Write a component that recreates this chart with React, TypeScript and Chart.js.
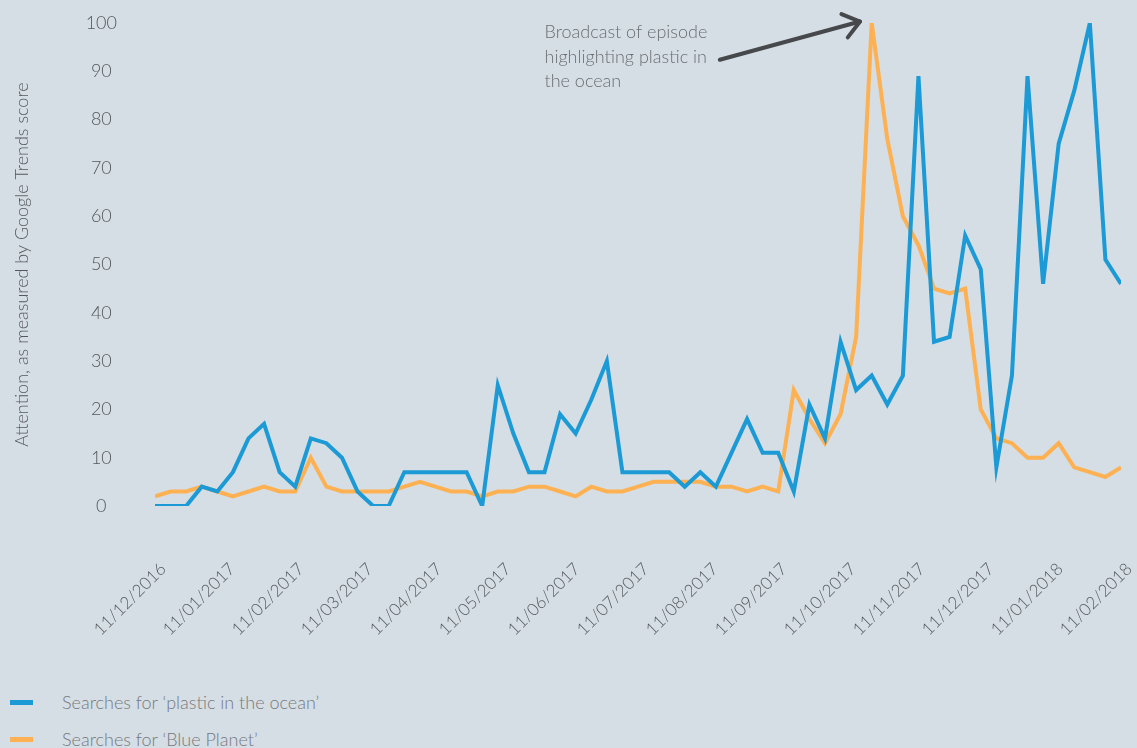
import React, { useEffect, useRef } from "react";
import { Chart, registerables } from "chart.js";

Chart.register(...registerables);

// Month tick labels along the x axis (evenly spaced over the weekly series)
const monthLabels = [
  "11/12/2016", "11/01/2017", "11/02/2017", "11/03/2017", "11/04/2017",
  "11/05/2017", "11/06/2017", "11/07/2017", "11/08/2017", "11/09/2017",
  "11/10/2017", "11/11/2017", "11/12/2017", "11/01/2018", "11/02/2018",
];

// Weekly Google Trends scores
const plasticInOcean = [
  0, 0, 0, 4, 3, 7, 14, 17, 7, 4, 14, 13, 10, 3, 0, 0, 7, 7, 7, 7, 7, 0,
  25, 15, 7, 7, 19, 15, 22, 30,
  7, 7, 7, 7, 4, 7, 4, 11, 18, 11, 11, 3,
  21, 14, 34, 24, 27, 21, 27, 89, 34, 35, 56, 49,
  8, 27, 89, 46, 75, 86, 100, 51, 46,
];

const bluePlanet = [
  2, 3, 3, 4, 3, 2, 3, 4, 3, 3, 10, 4, 3, 3, 3, 3, 4, 5, 4, 3, 3, 2,
  3, 3, 4, 4, 3, 2, 4, 3,
  3, 4, 5, 5, 5, 5, 4, 4, 3, 4, 3, 24,
  18, 13, 19, 35, 100, 76, 60, 54, 45, 44, 45, 20,
  14, 13, 10, 10, 13, 8, 7, 6, 8,
];

const seriesNames = ["Searches for \u2018plastic in the ocean\u2019", "Searches for \u2018Blue Planet\u2019"];
const seriesColors = ["#1b9ad6", "#fdb152"];
const yTitle = "Attention, as measured by Google Trends score";
const noteLines = ["Broadcast of episode", "highlighting plastic in", "the ocean"];

const BG = "#d5dee5";
const FONT = "Lato, 'Open Sans', sans-serif";

export default function App() {
  const ref = useRef<HTMLCanvasElement>(null);

  useEffect(() => {
    const last = plasticInOcean.length - 1;
    const tickCount = monthLabels.length;

    const notePlugin = {
      id: "broadcastNote",
      afterDraw(chart: any) {
        const { ctx } = chart;
        const xs = chart.scales.x;
        const ys = chart.scales.y;
        ctx.save();
        // text
        ctx.font = `300 18px ${FONT}`;
        ctx.fillStyle = "#6b6e72";
        ctx.textAlign = "left";
        ctx.textBaseline = "middle";
        const tx = xs.getPixelForValue(25.0);
        const lineVals = [98.0, 92.9, 87.9];
        noteLines.forEach((t, i) => {
          ctx.fillText(t, tx, ys.getPixelForValue(lineVals[i]));
        });
        // arrow
        const tipX = xs.getPixelForValue(45.25);
        const tipY = ys.getPixelForValue(100.3);
        const tailX = xs.getPixelForValue(36.25);
        const tailY = ys.getPixelForValue(92.4);
        ctx.strokeStyle = "#46484b";
        ctx.lineWidth = 4;
        ctx.lineCap = "round";
        ctx.lineJoin = "round";
        ctx.beginPath();
        ctx.moveTo(tailX, tailY);
        ctx.lineTo(tipX, tipY);
        ctx.stroke();
        const ang = Math.atan2(tailY - tipY, tailX - tipX);
        const armLen = 20;
        const spread = (37 * Math.PI) / 180;
        ctx.beginPath();
        ctx.moveTo(tipX + armLen * Math.cos(ang + spread), tipY + armLen * Math.sin(ang + spread));
        ctx.lineTo(tipX, tipY);
        ctx.lineTo(tipX + armLen * Math.cos(ang - spread), tipY + armLen * Math.sin(ang - spread));
        ctx.stroke();
        ctx.restore();
      },
    };

    const chart = new Chart(ref.current as HTMLCanvasElement, {
      type: "line",
      data: {
        datasets: [
          {
            label: seriesNames[0],
            data: plasticInOcean.map((v, i) => ({ x: i, y: v })),
            borderColor: seriesColors[0],
            backgroundColor: seriesColors[0],
            borderWidth: 4,
            pointRadius: 0,
            tension: 0,
          },
          {
            label: seriesNames[1],
            data: bluePlanet.map((v, i) => ({ x: i, y: v })),
            borderColor: seriesColors[1],
            backgroundColor: seriesColors[1],
            borderWidth: 4,
            pointRadius: 0,
            tension: 0,
          },
        ],
      },
      options: {
        animation: false,
        responsive: false,
        layout: { padding: { left: 0, right: 16, top: 23, bottom: 0 } },
        plugins: {
          legend: { display: false },
          tooltip: { enabled: false },
        },
        scales: {
          x: {
            type: "linear",
            min: 0,
            max: last,
            grid: { display: false, drawTicks: false },
            border: { display: false },
            afterBuildTicks: (scale: any) => {
              scale.ticks = monthLabels.map((_, i) => ({ value: (i * last) / (tickCount - 1) }));
            },
            afterFit: (scale: any) => {
              scale.height = 174;
              scale.paddingLeft = 0;
              scale.paddingRight = 0;
            },
            ticks: {
              autoSkip: false,
              minRotation: 45,
              maxRotation: 45,
              padding: 53,
              labelOffset: 8,
              color: "#55585c",
              font: { family: FONT, size: 17, weight: "300" as any },
              callback: (_v: any, i: number) => monthLabels[i],
            },
          },
          y: {
            min: 0,
            max: 100,
            grid: { display: false, drawTicks: false },
            border: { display: false },
            afterFit: (scale: any) => {
              scale.width = 155;
              scale.paddingTop = 0;
              scale.paddingBottom = 0;
            },
            ticks: {
              stepSize: 10,
              crossAlign: "center",
              padding: 38,
              color: "#55585c",
              font: { family: FONT, size: 18, weight: "300" as any },
            },
            title: {
              display: true,
              text: yTitle,
              color: "#55585c",
              font: { family: FONT, size: 18, weight: "300" as any },
              padding: { top: 11, bottom: 0 },
            },
          },
        },
      },
      plugins: [notePlugin],
    });
    return () => chart.destroy();
  }, []);

  return (
    <div
      style={{
        position: "absolute",
        left: 0,
        top: 0,
        width: 1137,
        height: 748,
        background: BG,
        overflow: "hidden",
        fontFamily: FONT,
      }}
    >
      <canvas ref={ref} width={1137} height={680} style={{ display: "block" }} />
      {seriesNames.map((name, i) => (
        <div
          key={name}
          style={{
            position: "absolute",
            left: 10,
            top: 689 + i * 37,
            height: 26,
            display: "flex",
            alignItems: "center",
            color: "#76797d",
            fontSize: 18,
            fontWeight: 300,
            whiteSpace: "nowrap",
          }}
        >
          <span style={{ display: "inline-block", width: 23, height: 5, background: seriesColors[i], marginRight: 29 }} />
          <span>{name}</span>
        </div>
      ))}
    </div>
  );
}
